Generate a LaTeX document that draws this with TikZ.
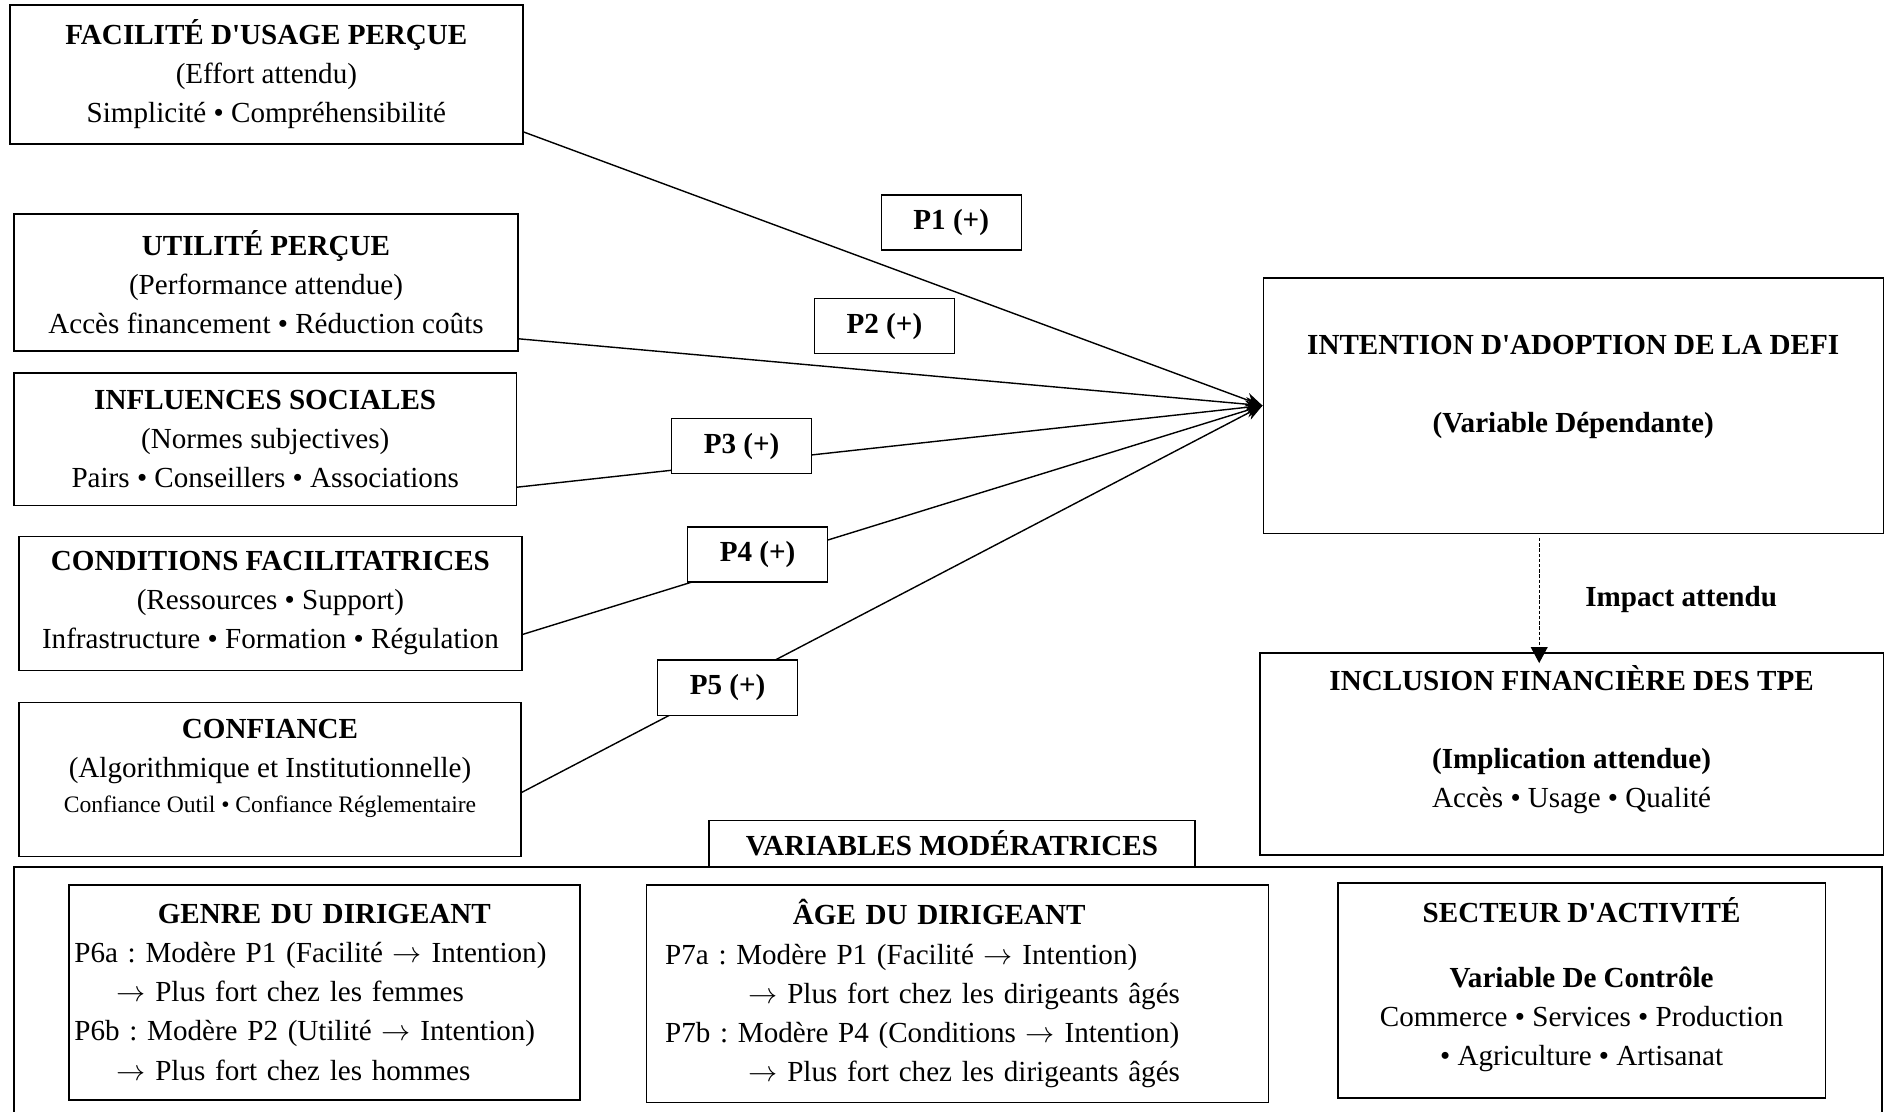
\documentclass[tikz,border=0pt]{standalone}
\usepackage{fontspec}
\setmainfont{Liberation Serif}[Ligatures=TeXOff]
\usetikzlibrary{arrows.meta}
\setlength{\parindent}{0pt}
\frenchspacing
\newcommand{\diagfont}{\fontsize{20.7}{27.8}\selectfont}
\newcommand{\smallline}{\fontsize{16.8}{22}\selectfont}
\newcommand{\dstrut}[1]{\rule[-#1]{0pt}{#1}}
\newcommand{\ra}{\ensuremath{\rightarrow}}

\begin{document}
\begin{tikzpicture}[
    concept/.style={draw, line width=1pt, align=center, font=\diagfont, inner sep=4pt},
    plabel/.style={draw, fill=white, line width=1pt, minimum width=3.5cm, minimum height=1.38cm, font=\diagfont\bfseries},
    modbox/.style={draw, line width=1pt, font=\diagfont, inner sep=0.1cm},
    arrow/.style={->, line width=1pt, >={Stealth[length=12pt, width=10pt]}},
    impactarrow/.style={-{Triangle[length=0.4cm, width=0.42cm]}, line width=0.8pt, dash pattern=on 2.5pt off 1.2pt}
]
\useasboundingbox (0,0) rectangle (47.125,-27.8);

% Independent variables (left column)
\node[concept, minimum width=12.83cm, minimum height=3.48cm] (facil) at (6.66,-1.86) {
    \textbf{FACILITÉ D'USAGE PERÇUE}\\
    (Effort attendu)\\
    Simplicité • Compréhensibilité
};

\node[concept, minimum width=12.6cm, minimum height=3.43cm] (util) at (6.65,-7.06) {
    \textbf{UTILITÉ PERÇUE}\\
    (Performance attendue)\\
    Accès financement • Réduction coûts
};

\node[concept, minimum width=12.55cm, minimum height=3.3cm] (social) at (6.63,-10.98) {
    \textbf{INFLUENCES SOCIALES}\\
    (Normes subjectives)\\
    Pairs • Conseillers • Associations
};

\node[concept, minimum width=12.58cm, minimum height=3.35cm] (cond) at (6.76,-15.08) {
    \textbf{CONDITIONS FACILITATRICES}\\
    (Ressources • Support)\\
    Infrastructure • Formation • Régulation
};

\node[concept, minimum width=12.55cm, minimum height=3.85cm] (conf) at (6.75,-19.48) {
    \textbf{CONFIANCE}\\
    (Algorithmique et Institutionnelle)\\[-0.1cm]
    {\smallline Confiance Outil • Confiance Réglementaire}\dstrut{0.68cm}
};

% Dependent variable and outcome
\node[concept, minimum width=15.5cm, minimum height=6.38cm] (intent) at (39.33,-10.14) {
    \textbf{INTENTION D'ADOPTION DE LA DEFI}\\[0.97cm]
    \textbf{(Variable Dépendante)}\dstrut{1.09cm}
};

\node[concept, minimum width=15.58cm, minimum height=5.05cm] (incl) at (39.29,-18.85) {
    \textbf{INCLUSION FINANCIÈRE DES TPE}\\[0.97cm]
    \textbf{(Implication attendue)}\\
    Accès • Usage • Qualité\dstrut{0.88cm}
};

% Propositions P1 to P5
\draw[arrow] (facil.east) ++(0,-1.44) -- (intent.west);
\draw[arrow] (util.east) ++(0,-1.41) -- (intent.west);
\draw[arrow] (social.east) ++(0,-1.2) -- (intent.west);
\draw[arrow] (cond.east) ++(0,-0.78) -- (intent.west);
\draw[arrow] (conf.east) ++(0,-0.33) -- (intent.west);

\node[plabel] (p1) at (23.78,-5.56) {P1 (+)};
\node[plabel] (p2) at (22.11,-8.15) {P2 (+)};
\node[plabel] (p3) at (18.54,-11.15) {P3 (+)};
\node[plabel] (p4) at (18.94,-13.86) {P4 (+)};
\node[plabel] (p5) at (18.19,-17.19) {P5 (+)};

% Expected impact
\draw[impactarrow, shorten <=0.1cm, shorten >=-0.27cm] ([xshift=-0.85cm]intent.south) -- ([xshift=-0.81cm]incl.north);
\node[font=\diagfont\bfseries] (impact) at (42.03,-14.98) {Impact attendu};

% Moderating variables
\node[modbox, minimum width=46.7cm, minimum height=6.33cm] (modframe) at (23.7,-24.84) {};
\node[concept, fill=white, minimum width=12.15cm, minimum height=1.15cm, font=\diagfont\bfseries] (modtitle) at (23.8,-21.08) {VARIABLES MODÉRATRICES};

\node[modbox, minimum width=12.78cm, minimum height=5.38cm, text width=12.5cm, align=left] (genre) at (8.11,-24.81) {%
    {\centering\textbf{GENRE DU DIRIGEANT}\par}
    P6a : Modère P1 (Facilité \ra{} Intention)\\
    \hspace*{1.05cm}\ra{} Plus fort chez les femmes\\
    P6b : Modère P2 (Utilité \ra{} Intention)\\
    \hspace*{1.05cm}\ra{} Plus fort chez les hommes
};

\node[modbox, minimum width=15.55cm, minimum height=5.43cm, text width=14.6cm, align=left] (age) at (23.93,-24.84) {%
    {\centering\hspace*{-0.9cm}\textbf{ÂGE DU DIRIGEANT}\par}
    P7a : Modère P1 (Facilité \ra{} Intention)\\
    \hspace*{2.08cm}\ra{} Plus fort chez les dirigeants âgés\\
    P7b : Modère P4 (Conditions \ra{} Intention)\\
    \hspace*{2.08cm}\ra{} Plus fort chez les dirigeants âgés
};

\node[modbox, minimum width=12.18cm, minimum height=5.38cm, align=center] (secteur) at (39.54,-24.76) {
    \textbf{SECTEUR D'ACTIVITÉ}\\[0.66cm]
    \textbf{Variable De Contrôle}\\
    Commerce • Services • Production\\
    • Agriculture • Artisanat\dstrut{0.45cm}
};

\end{tikzpicture}
\end{document}
